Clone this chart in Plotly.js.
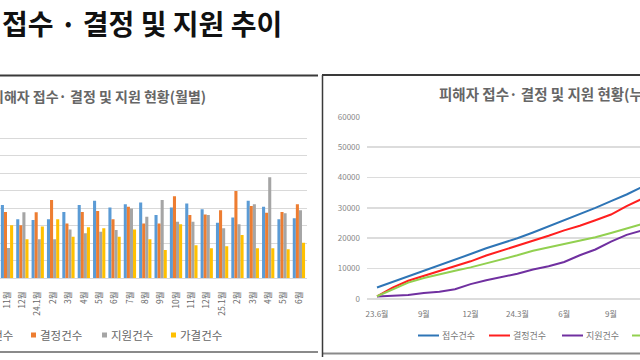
<!DOCTYPE html>
<html><head><meta charset="utf-8">
<script src="https://cdn.plot.ly/plotly-3.0.1.min.js"></script>
<style>
html,body{margin:0;padding:0;width:640px;height:360px;overflow:hidden;background:#fff;}
#chart{position:absolute;left:-220px;top:0;width:1100px;height:360px;}
</style></head><body><div id="chart"></div>
<script>
// ---- data ----
const months = ["23.6월","23.7월","23.8월","23.9월","23.10월","23.11월","23.12월","24.1월","24.2월","24.3월","24.4월","24.5월","24.6월","24.7월","24.8월","24.9월","24.10월","24.11월","24.12월","25.1월","25.2월","25.3월","25.4월","25.5월","25.6월"];
const monthLabels = ["23.6월","7월","8월","9월","10월","11월","12월","24.1월","2월","3월","4월","5월","6월","7월","8월","9월","10월","11월","12월","25.1월","2월","3월","4월","5월","6월"];
const cumTickVals = ["23.6월","23.9월","23.12월","24.3월","24.6월","24.9월","24.12월","25.3월","25.6월"];
const cumTickLabels = ["23.6월","9월","12월","24.3월","6월","9월","12월","25.3월","6월"];
const seriesNames = ["접수건수","결정건수","지원건수","가결건수"];

// monthly counts (left chart)
const recvMonthly   = [2600,1800,1900,1800,1800,2090,1680,1660,1680,1890,2090,2210,2020,2110,2160,1800,2020,2130,1970,1580,1730,2210,2040,1680,1710];
const decideMonthly = [900,2800,2200,1600,1700,1890,1510,1880,2230,1560,1890,1920,1680,2040,1560,1560,2340,1800,1820,1940,2490,2060,1870,1890,2110];
const supportMonthly= [800,300,200,700,400,860,1880,1110,1110,1390,1280,1320,1370,1990,1750,2230,1610,1610,1800,1420,1540,2110,2880,1850,1940];
const approveMonthly= [900,2300,2200,1500,1300,1510,1110,1470,1680,1180,1450,1420,1180,1390,1110,800,1540,940,850,910,1230,850,850,820,1010];

// cumulative counts (right chart)
const recvCum    = [3800,5600,7500,9300,11100,12900,14800,16700,18300,20000,21900,23900,25900,27800,30000,32200,34400,36900,38800,40500,42200,44200,46100,47800,49500];
const decideCum  = [900,3750,6000,7600,9300,11000,12400,14300,15900,17400,19200,20800,22600,24100,25900,27800,30600,33000,35000,36800,38400,40300,42400,44300,46200];
const supportCum = [800,1100,1300,2000,2400,3200,4900,6200,7300,8300,9700,10800,12200,14400,16300,18900,21100,22600,24000,25500,27600,29700,30500,32200,34100];
const approveCum = [900,3200,5400,6900,8200,9300,10400,11700,13200,14400,15900,17000,18300,19400,20300,21700,23300,24700,25600,26500,27400,28300,29100,29900,30800];

// ---- layout helpers (page pixels -> paper fractions) ----
const W = 1100, H = 360, OX = -220;
const fx = X => (X - OX) / W;
const fy = Y => 1 - Y / H;
const FONT = '"Noto Sans CJK KR", "Noto Sans", sans-serif';
const barColors = ["#5B9BD5","#ED7D31","#A5A5A5","#FFC000"];
const lineColors = ["#2E75B6","#FF1F1F","#7030A0","#92D050"];

const monthly = [recvMonthly, decideMonthly, supportMonthly, approveMonthly];
const cum = [recvCum, decideCum, supportCum, approveCum];

const traces = [];
monthly.forEach((vals, k) => {
  traces.push({type:"bar", x: months, y: vals, name: seriesNames[k], xaxis:"x", yaxis:"y",
    marker:{color: barColors[k]}, showlegend:false, hoverinfo:"skip"});
});
cum.forEach((vals, k) => {
  traces.push({type:"scatter", mode:"lines", x: months, y: vals, name: seriesNames[k], xaxis:"x2", yaxis:"y2",
    line:{color: lineColors[k], width: 2}, showlegend:false, hoverinfo:"skip"});
});

const shapes = [];
const ann = [];
function hline(x0,x1,y,w,c){shapes.push({type:"line",xref:"paper",yref:"paper",x0:fx(x0),x1:fx(x1),y0:fy(y),y1:fy(y),line:{color:c,width:w}});}
function vline(x,y0,y1,w,c){shapes.push({type:"line",xref:"paper",yref:"paper",x0:fx(x),x1:fx(x),y0:fy(y0),y1:fy(y1),line:{color:c,width:w}});}
// panel frames
hline(-220,318,75.5,2,"#3a3a3a");
hline(-220,318,352,2,"#8a8a8a");
hline(322,880,75,2,"#3a3a3a");
hline(322,880,353.5,2,"#8a8a8a");
vline(322.5,75,357,1.5,"#3a3a3a");

// main title
ann.push({xref:"paper",yref:"paper",x:fx(0),y:fy(23),xanchor:"left",yanchor:"middle",showarrow:false,
  text:"<b>접수 · 결정 및 지원 추이</b>",font:{family:FONT,size:28,color:"#111"}});
// chart titles
ann.push({xref:"paper",yref:"paper",x:fx(208),y:fy(96.5),xanchor:"right",yanchor:"middle",showarrow:false,
  text:"<b>피해자 접수· 결정 및 지원 현황(월별)</b>",font:{family:FONT,size:14,color:"#666"}});
ann.push({xref:"paper",yref:"paper",x:fx(437),y:fy(93.5),xanchor:"left",yanchor:"middle",showarrow:false,
  text:"<b>피해자 접수· 결정 및 지원 현황(누적)</b>",font:{family:FONT,size:14.5,color:"#666"}});

// left legend (squares + text)
const legBarX = [-31, 38, 109, 178];
legBarX.forEach((tx,k)=>{
  shapes.push({type:"rect",xref:"paper",yref:"paper",x0:fx(tx-7),x1:fx(tx-2),y0:fy(337.5),y1:fy(332.5),
    line:{width:0},fillcolor:barColors[k]});
  ann.push({xref:"paper",yref:"paper",x:fx(tx),y:fy(335),xanchor:"left",yanchor:"middle",showarrow:false,
    text:seriesNames[k],font:{family:FONT,size:11.5,color:"#666"}});
});
// right legend (line samples + text)
const legLineX = [418, 489, 562, 632];
legLineX.forEach((lx,k)=>{
  shapes.push({type:"line",xref:"paper",yref:"paper",x0:fx(lx),x1:fx(lx+21),y0:fy(335.5),y1:fy(335.5),
    line:{color:lineColors[k],width:2}});
  ann.push({xref:"paper",yref:"paper",x:fx(lx+22),y:fy(335.5),xanchor:"left",yanchor:"middle",showarrow:false,
    text:seriesNames[k],font:{family:FONT,size:9,color:"#777"}});
});

const layout = {
  width: W, height: H,
  margin:{l:0,r:0,t:0,b:0},
  paper_bgcolor:"#fff", plot_bgcolor:"rgba(0,0,0,0)",
  font:{family:FONT,color:"#666"},
  barmode:"group", bargap:0.2, bargroupgap:0,
  showlegend:false,
  xaxis:{domain:[fx(-77.5),fx(306.6)], anchor:"y", type:"category", categoryorder:"array", categoryarray:months,
    range:[-0.5,24.5], tickmode:"array", tickvals:months, ticktext:monthLabels, tickangle:-90,
    tickfont:{size:8.5,color:"#666"}, ticks:"", ticklabelstandoff:9, showgrid:false,
    showline:true, linecolor:"#d9d9d9", linewidth:1, fixedrange:true},
  yaxis:{domain:[fy(278),fy(120.7)], anchor:"x", range:[0,4500], dtick:500, gridcolor:"#d9d9d9", gridwidth:1,
    zeroline:false, showline:false, tickfont:{size:9,color:"#666"}, fixedrange:true},
  xaxis2:{domain:[fx(367),fx(767)], anchor:"y2", type:"category", categoryorder:"array", categoryarray:months,
    range:[-0.641,25.0], tickmode:"array", tickvals:cumTickVals, ticktext:cumTickLabels,
    tickfont:{size:8,color:"#777"}, ticks:"", ticklabelstandoff:9, showgrid:false, showline:false, fixedrange:true},
  yaxis2:{domain:[fy(299),fy(116.7)], anchor:"x2", range:[0,60000], dtick:10000, gridcolor:"#dcdcdc", gridwidth:1.5,
    zeroline:true, zerolinecolor:"#dcdcdc", zerolinewidth:1.5, tickformat:"d",
    tickfont:{size:8,color:"#888"}, ticklabelstandoff:6, fixedrange:true},
  shapes: shapes,
  annotations: ann
};
Plotly.newPlot("chart", traces, layout, {staticPlot:true, displayModeBar:false});
</script>
</body></html>
